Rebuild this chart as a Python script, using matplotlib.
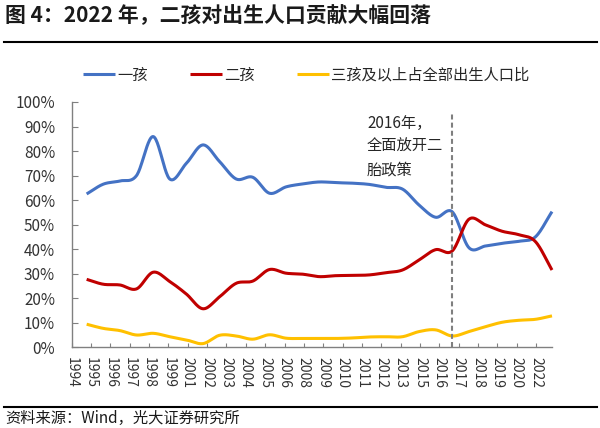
import numpy as np
import matplotlib
matplotlib.use("Agg")
import matplotlib.pyplot as plt
from matplotlib.lines import Line2D

plt.rcParams['font.family'] = ['Noto Sans CJK SC', 'DejaVu Sans']

# Data (share of births, %)
years = list(range(1994, 2023))
one_child = [62.5, 66.5, 67.8, 70.0, 85.9, 68.6, 75.0, 82.5, 75.7, 68.6,
             69.3, 62.8, 65.4, 66.6, 67.4, 67.1, 66.9, 66.4, 65.2, 64.5,
             58.0, 53.0, 55.2, 40.6, 41.3, 42.4, 43.2, 45.0, 55.3]
two_child = [27.7, 25.7, 25.4, 23.8, 30.6, 26.8, 21.7, 15.7, 20.6, 26.1,
             27.0, 31.7, 30.2, 29.8, 28.8, 29.2, 29.3, 29.5, 30.4, 31.5,
             35.6, 39.8, 39.3, 52.2, 49.9, 47.3, 45.9, 43.1, 31.5]
three_plus = [9.4, 7.7, 6.8, 5.0, 5.7, 4.3, 3.0, 1.5, 4.9, 4.6,
              3.3, 5.1, 3.7, 3.6, 3.6, 3.6, 3.8, 4.2, 4.3, 4.3,
              6.4, 7.1, 4.6, 6.4, 8.4, 10.2, 11.0, 11.4, 12.8]
tick_labels = ['1994', '1995', '1996', '1997', '1998', '1999', '2001', '2002',
               '2003', '2004', '2005', '2006', '2008', '2009', '2010', '2011',
               '2012', '2013', '2015', '2016', '2017', '2018', '2019', '2020',
               '2022']
policy_year = 2016
labels = ['一孩', '二孩', '三孩及以上占全部出生人口比']
colors = ['#4472C4', '#C00000', '#FFC000']


def smooth(x, y, n=24):
    # Catmull-Rom curve like Excel's smoothed line
    x = np.asarray(x, float)
    y = np.asarray(y, float)
    px = np.concatenate([[2 * x[0] - x[1]], x, [2 * x[-1] - x[-2]]])
    py = np.concatenate([[2 * y[0] - y[1]], y, [2 * y[-1] - y[-2]]])
    t = np.linspace(0, 1, n, endpoint=False)
    xs, ys = [], []
    for i in range(len(x) - 1):
        for p, out in ((px, xs), (py, ys)):
            p0, p1, p2, p3 = p[i], p[i + 1], p[i + 2], p[i + 3]
            out.append(0.5 * (2 * p1 + (-p0 + p2) * t
                              + (2 * p0 - 5 * p1 + 4 * p2 - p3) * t ** 2
                              + (-p0 + 3 * p1 - 3 * p2 + p3) * t ** 3))
    xs.append([x[-1]])
    ys.append([y[-1]])
    return np.concatenate(xs), np.concatenate(ys)


fig = plt.figure(figsize=(6, 4.28), dpi=100)
ax = fig.add_axes([0.1195, 0.1886, 0.8005, 0.5731])

for vals, lab, c in zip([one_child, two_child, three_plus], labels, colors):
    sx, sy = smooth(years, vals)
    ax.plot(sx, sy, color=c, lw=2.2, label=lab, clip_on=False,
            solid_capstyle='butt')

ax.plot([policy_year, policy_year], [0, 95.4], color='#7F7F7F', lw=1.5,
        linestyle=(0, (2.4, 1.5)), clip_on=False)

x_left = 1993.1
ax.set_xlim(x_left, 2022)
ax.set_ylim(0, 100)
tick_step = 1.1643
ax.set_xticks([x_left + i * tick_step for i in range(len(tick_labels))])
ax.set_xticklabels(tick_labels, rotation=270, fontsize=10, color='#333333')
ax.set_yticks(np.arange(0, 101, 10))
ax.set_yticklabels([f'{v}%' for v in range(0, 101, 10)], fontsize=11,
                   color='#333333')
ax.tick_params(axis='x', direction='in', length=3, color='#808080', pad=7)
ax.tick_params(axis='y', direction='in', length=4, color='#808080', pad=12)

for s in ['top', 'right']:
    ax.spines[s].set_visible(False)
for s in ['left', 'bottom']:
    ax.spines[s].set_color('#808080')
    ax.spines[s].set_linewidth(1.0)

fig.text(367 / 600, 1 - 146.7 / 428, '2016年，\n全面放开二\n胎政策', fontsize=11,
         color='#262626', ha='left', va='center', linespacing=1.45)

fig.legend(loc='center left', bbox_to_anchor=(83 / 600, 1 - 75 / 428),
           ncol=3, frameon=False, fontsize=11, handlelength=2.1,
           handletextpad=0.15, columnspacing=2.75, borderpad=0,
           borderaxespad=0, labelcolor='#262626')

fig.text(4.6 / 600, 1 - 16 / 428, '图 4：2022 年，二孩对出生人口贡献大幅回落',
         fontsize=15, fontweight='bold', color='#1a1a1a', ha='left', va='center')
fig.add_artist(Line2D([0.007, 0.995], [1 - 41.7 / 428] * 2,
                      transform=fig.transFigure, color='black', lw=1.5))
fig.add_artist(Line2D([0.007, 0.995], [1 - 406.7 / 428] * 2,
                      transform=fig.transFigure, color='black', lw=1.5))
fig.text(5 / 600, 1 - 418.3 / 428, '资料来源：Wind，光大证券研究所', fontsize=11,
         color='#1a1a1a', ha='left', va='center')

fig.savefig('out.png', dpi=100)
